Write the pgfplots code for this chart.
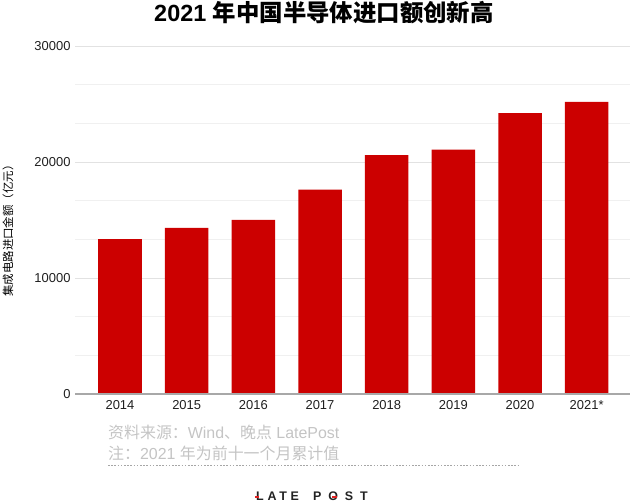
\documentclass[border=0pt]{standalone}
\usepackage{pgfplots}
\pgfplotsset{compat=1.18}
\usepackage{fontspec}
\setmainfont{Liberation Sans}
\newfontfamily\cjk{Noto Sans CJK SC}

\definecolor{barred}{HTML}{CC0000}
\definecolor{gridmajor}{HTML}{E2E2E2}
\definecolor{gridminor}{HTML}{F0F0F0}
\definecolor{zeroline}{HTML}{A8A8A8}
\definecolor{srcgray}{HTML}{C4C4C4}
\definecolor{logoblack}{HTML}{222222}
\definecolor{logored}{HTML}{E02020}

\begin{document}
\begin{tikzpicture}
    \path[use as bounding box] (0,0) rectangle (640bp,-503bp);

    % title
    \node at (324bp,-13bp) {\bfseries\fontsize{23.5}{24}\selectfont 2021 {\cjk\bfseries 年中国半导体进口额创新高}};

    % y label
    \node[rotate=90] at (8bp,-228bp) {\cjk\fontsize{11.5}{12}\selectfont 集成电路进口金额（亿元）};

    \begin{axis}[
        at={(75bp,-394bp)}, anchor=south west,
        scale only axis,
        width=555bp, height=348bp,
        xmin=-0.675, xmax=7.65,
        ymin=0, ymax=30000,
        ybar, bar width=43.5bp,
        xtick={0,1,2,3,4,5,6,7},
        xticklabels={2014,2015,2016,2017,2018,2019,2020,2021*},
        ytick={0,10000,20000,30000},
        minor ytick={3333.33,6666.67,13333.33,16666.67,23333.33,26666.67},
        scaled y ticks=false,
        yticklabel style={/pgf/number format/fixed, /pgf/number format/1000 sep={}},
        /pgf/number format/assume math mode=true,
        ticklabel style={font=\fontsize{13}{13}\selectfont, text=black!88},
        major tick length=0pt, minor tick length=0pt,
        xticklabel style={yshift=-3bp},
        yticklabel style={xshift=-1bp},
        ymajorgrids, yminorgrids,
        major grid style={gridmajor, line width=0.9bp},
        minor grid style={gridminor, line width=0.9bp},
        axis line style={draw=none},
        clip=false,
    ]
        \addplot[fill=barred, draw=none] coordinates {
            (0, 13350)
            (1, 14325)
            (2, 15015)
            (3, 17610)
            (4, 20600)
            (5, 21065)
            (6, 24207)
            (7, 25185)
        };
        \draw[zeroline, line width=1.5bp] (axis cs:-0.675,0) -- (axis cs:7.65,0);
    \end{axis}

    % source notes
    \node[anchor=west, text=srcgray, inner sep=0pt] at (108bp,-432bp)
        {\fontsize{16}{16}\selectfont{\cjk 资料来源：}Wind{\cjk 、晚点} LatePost};
    \node[anchor=west, text=srcgray, inner sep=0pt] at (108bp,-453bp)
        {\fontsize{16}{16}\selectfont{\cjk 注：}2021 {\cjk 年为前十一个月累计值}};
    \draw[gray!70, line width=0.8bp, dash pattern=on 1.6bp off 1.6bp] (108bp,-465bp) -- (520bp,-465bp);

    % logo
    \node[text=logoblack, inner sep=0pt, anchor=west] at (256bp,-496.5bp)
        {\bfseries\addfontfeature{LetterSpace=30}\fontsize{12.5}{13}\selectfont LATE};
    \node[text=logoblack, inner sep=0pt, anchor=west] at (313bp,-496.5bp)
        {\bfseries\addfontfeature{LetterSpace=55}\fontsize{12.5}{13}\selectfont POST};
    \draw[logored, line width=1.2bp] (255bp,-497bp) -- (259bp,-497bp);
    \draw[logored, line width=1.2bp] (332bp,-497bp) -- (337bp,-497bp);
\end{tikzpicture}
\end{document}
